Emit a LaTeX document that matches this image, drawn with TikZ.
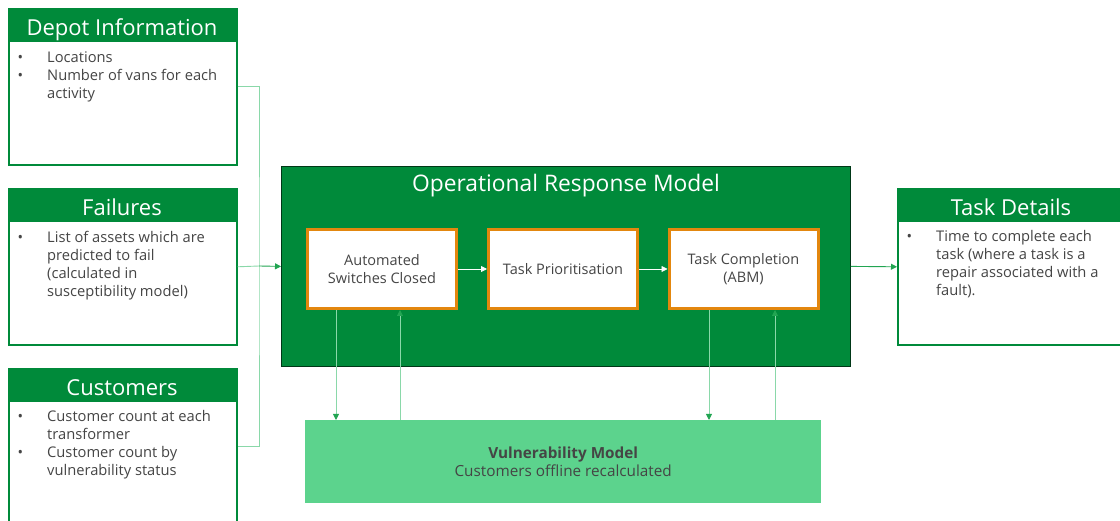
\documentclass[tikz,border=0pt]{standalone}
\usepackage{fontspec}
\setmainfont{Open Sans}
\usetikzlibrary{arrows.meta}

\definecolor{dgreen}{HTML}{008A3A}
\definecolor{lgreen}{HTML}{8AD8A9}
\definecolor{mgreen}{HTML}{22A552}
\definecolor{vgreen}{HTML}{5CD38D}
\definecolor{orng}{HTML}{E3870E}
\definecolor{txtgray}{HTML}{454545}

\newcommand\txtbody{\fontsize{14.7}{18}\selectfont}
\newcommand\txthead{\fontsize{22}{24}\selectfont}
\newcommand\txttitle{\fontsize{22.8}{24}\selectfont}
\newcommand\txtstage{\fontsize{14.5}{18}\selectfont}
\newcommand\txtvuln{\fontsize{15.3}{18}\selectfont}
% one bullet item: a dot, then the item's lines
\newcommand\bitem{\makebox[39pt][l]{\hspace{9.5pt}•}&}

\begin{document}
\begin{tikzpicture}[x=1pt,y=-1pt,
  infobox/.style={draw=dgreen, line width=1.6pt, fill=white, minimum width=228,
    minimum height=156, anchor=north west, inner sep=0},
  infohead/.style={fill=dgreen, minimum width=228, minimum height=34,
    anchor=north west, inner sep=0},
  headtext/.style={anchor=base, text=white, inner sep=0, font=\txthead},
  bodytext/.style={anchor=north west, inner sep=0, text=txtgray, font=\txtbody},
  stage/.style={draw=orng, line width=3pt, fill=white, minimum width=149,
    minimum height=79, inner sep=0, align=center, text=txtgray, font=\txtstage},
  feed/.style={draw=lgreen, line width=0.9pt},
  tip/.style={-{Triangle[length=6pt,width=6pt,color=mgreen]}},
  feedarrow/.style={feed, tip}]

\useasboundingbox (0,0) rectangle (1120,521);
\clip (0,0) rectangle (1120,521);

% ---------- input boxes ----------
\node[infobox] (depot) at (8,8) {};
\node[infohead] (depoth) at (depot.north west) {};
\node[headtext] (depott) at (122,36) {Depot Information};
\node[bodytext] (depotl) at (8,49.4) {\begin{tabular}{@{}l@{}l@{}}
  \bitem Locations\\
  \bitem Number of vans for each\\
  & activity
\end{tabular}};

\node[infobox] (fail) at (8,188) {};
\node[infohead] (failh) at (fail.north west) {};
\node[headtext] (failt) at (122,216) {Failures};
\node[bodytext] (faill) at (8,229.4) {\begin{tabular}{@{}l@{}l@{}}
  \bitem List of assets which are\\
  & predicted to fail\\
  & (calculated in\\
  & susceptibility model)
\end{tabular}};

\node[infobox] (cust) at (8,368) {};
\node[infohead] (custh) at (cust.north west) {};
\node[headtext] (custt) at (122,396) {Customers};
\node[bodytext] (custl) at (8,409) {\begin{tabular}{@{}l@{}l@{}}
  \bitem Customer count at each\\
  & transformer\\
  \bitem Customer count by\\
  & vulnerability status
\end{tabular}};

% ---------- output box ----------
\node[infobox] (task) at (897,188) {};
\node[infohead] (taskh) at (task.north west) {};
\node[headtext] (taskt) at (1011,216) {Task Details};
\node[bodytext] (taskl) at (897,229) {\begin{tabular}{@{}l@{}l@{}}
  \bitem Time to complete each\\
  & task (where a task is a\\
  & repair associated with a\\
  & fault).
\end{tabular}};

% ---------- operational response model ----------
\node[draw=black!60!dgreen, fill=dgreen, line width=0.8pt, minimum width=569,
  minimum height=200, anchor=north west, inner sep=0] (orm) at (281,166) {};
\node[anchor=base, text=white, font=\txttitle, inner sep=0] (ormtitle) at (566,192) {Operational Response Model};

\node[stage] (s1) at (382,269) {Automated\\Switches Closed};
\node[stage] (s2) at (563,269) {Task Prioritisation};
\node[stage] (s3) at (743.5,269) {Task Completion\\(ABM)};

\draw[white, line width=0.8pt, -{Triangle[length=6pt,width=6pt]}] (s1) -- (s2);
\draw[white, line width=0.8pt, -{Triangle[length=6pt,width=6pt]}] (s2) -- (s3);

% ---------- vulnerability model ----------
\node[fill=vgreen, minimum width=516, minimum height=83, anchor=north west,
  align=center, inner sep=0, text=txtgray, font=\txtvuln] (vuln) at (305,420)
  {\textbf{Vulnerability Model}\\Customers offline recalculated};

\coordinate (v1) at (336,0);
\coordinate (v2) at (400,0);
\coordinate (v3) at (709,0);
\coordinate (v4) at (775,0);
\draw[feedarrow] (s1.south -| v1) -- (vuln.north -| v1);
\draw[feedarrow] (vuln.north -| v2) -- (s1.south -| v2);
\draw[feedarrow] (s3.south -| v3) -- (vuln.north -| v3);
\draw[feedarrow] (vuln.north -| v4) -- (s3.south -| v4);

% ---------- feeds into and out of the model ----------
\coordinate (j) at (259,266);
\draw[feed] (depot.east) -| (j) |- (cust.east);
\draw[feed] (fail.east) -- (j);
\draw[mgreen, line width=0.9pt, tip] (j) -- (orm.west);
\draw[mgreen, line width=0.9pt, tip] (orm.east) -- (task.west);
\end{tikzpicture}
\end{document}
